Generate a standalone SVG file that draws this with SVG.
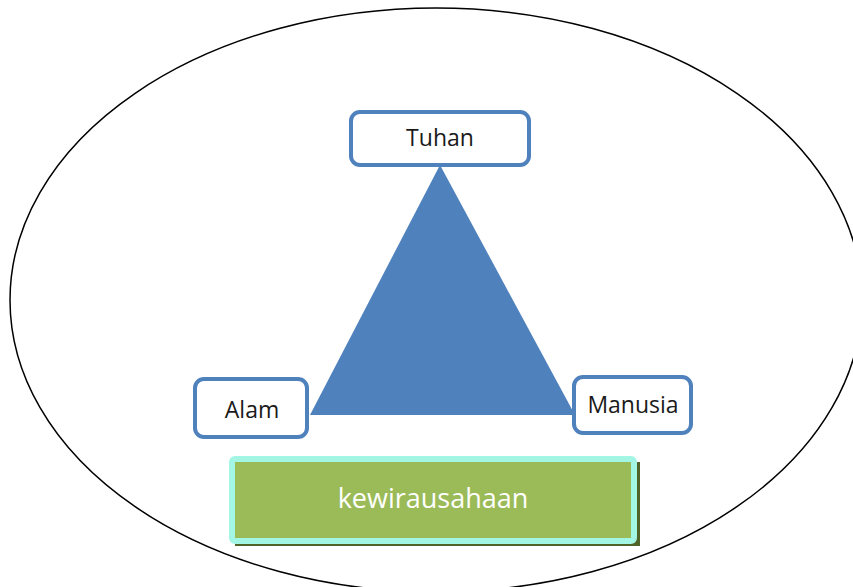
<svg xmlns="http://www.w3.org/2000/svg" width="853" height="587" viewBox="0 0 853 587">
<style>
.box{fill:#ffffff;stroke:#4f81bd;stroke-width:4}
.lbl{font-family:"Open Sans","Liberation Sans",sans-serif;font-size:23px;fill:#1a1a1a;text-anchor:middle}
.main{font-family:"Open Sans","Liberation Sans",sans-serif;font-size:27px;fill:#ffffff;text-anchor:middle}
</style>
<rect width="853" height="587" fill="#ffffff"/>
<ellipse cx="436" cy="300" rx="426" ry="292" fill="none" stroke="#000000" stroke-width="1.5"/>
<g id="connectors">
<polygon points="440,165 310,415 575,415" fill="#4f81bd"/>
</g>
<g id="tuhan">
<rect class="box" x="351" y="112" width="178" height="53" rx="9"/>
<text class="lbl" x="440" y="146">Tuhan</text>
</g>
<g id="alam">
<rect class="box" x="195" y="379" width="112" height="58" rx="9"/>
<text class="lbl" x="252" y="418">Alam</text>
</g>
<g id="manusia">
<rect class="box" x="574" y="377" width="117" height="56" rx="9"/>
<text class="lbl" x="633" y="413">Manusia</text>
</g>
<g id="kewirausahaan">
<rect x="235" y="462" width="405" height="84" fill="#4f6228"/>
<rect x="232" y="459" width="402" height="82" rx="3" fill="#9bbb59" stroke="#a3f5e4" stroke-width="6"/>
<text class="main" x="433" y="508">kewirausahaan</text>
</g>
</svg>
